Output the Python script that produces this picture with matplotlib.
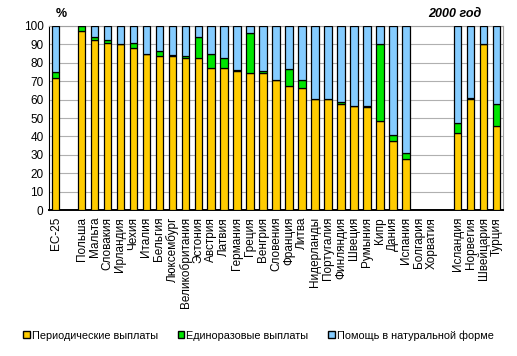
import matplotlib.pyplot as plt
from matplotlib.patches import Patch
import numpy as np

plt.rcParams['font.family'] = ['Liberation Sans', 'DejaVu Sans']

# categories (None = empty slot between groups)
countries = ["ЕС-25", None, "Польша", "Мальта", "Словакия", "Ирландия", "Чехия", "Италия",
             "Бельгия", "Люксембург", "Великобритания", "Эстония", "Австрия", "Латвия",
             "Германия", "Греция", "Венгрия", "Словения", "Франция", "Литва", "Нидерланды",
             "Португалия", "Финляндия", "Швеция", "Румыния", "Кипр", "Дания", "Испания",
             "Болгария", "Хорватия", None, "Исландия", "Норвегия", "Швейцария", "Турция"]

# periodic payments, %
periodic = [71.5, 0, 97.5, 92.6, 90.9, 90.0, 88.2, 84.6,
            83.9, 83.9, 82.8, 82.4, 77.0, 77.0,
            75.4, 74.5, 74.3, 70.5, 67.2, 66.1, 60.1,
            60.1, 57.8, 56.3, 55.8, 48.2, 37.3, 27.5,
            0, 0, 0, 41.7, 60.3, 90.0, 45.5]
# lump-sum payments, %
lump = [3.3, 0, 2.5, 1.2, 1.3, 0.0, 2.4, 0.0,
        2.3, 0.6, 0.7, 11.4, 7.6, 5.4,
        0.7, 21.5, 1.2, 0.0, 9.2, 4.4, 0.0,
        0.0, 0.8, 0.0, 0.7, 41.8, 3.3, 3.7,
        0, 0, 0, 5.4, 0.6, 0.0, 11.9]
# has data at all
has_data = [c is not None and c not in ("Болгария", "Хорватия") for c in countries]

periodic = np.array(periodic)
lump = np.array(lump)
in_kind = np.where(has_data, 100 - periodic - lump, 0)

c_per = "#FFCC00"
c_lump = "#00E600"
c_kind = "#85CCFF"

fig = plt.figure(figsize=(5.17, 3.56), dpi=100)
ax = fig.add_axes([0.095, 0.41, 0.878, 0.517])

x = np.arange(len(countries))
mask = np.array(has_data)
w = 0.58
ax.bar(x[mask], periodic[mask], w, color=c_per, edgecolor="black", linewidth=0.9, zorder=3)
ax.bar(x[mask], lump[mask], w, bottom=periodic[mask], color=c_lump, edgecolor="black", linewidth=0.9, zorder=3)
ax.bar(x[mask], in_kind[mask], w, bottom=(periodic + lump)[mask], color=c_kind, edgecolor="black", linewidth=0.9, zorder=3)

ax.set_xlim(-0.5, len(countries) - 0.5)
ax.set_ylim(0, 100)
ax.set_yticks(range(0, 101, 10))
ax.yaxis.grid(True, color="#B0B0B0", linewidth=0.8, zorder=0)
ax.tick_params(axis="y", length=0, labelsize=8.5, pad=4)
ax.set_xticks(x)
ax.set_xticklabels([c if c else "" for c in countries], rotation=90, fontsize=8.5)
ax.tick_params(axis="x", length=0, pad=5)

for s in ("top", "right"):
    ax.spines[s].set_color("#A0A0A0")
ax.spines["left"].set_color("black")
ax.spines["bottom"].set_color("black")
ax.spines["bottom"].set_linewidth(1.4)

fig.text(0.118, 0.962, "%", fontsize=9, fontweight="bold", ha="center", va="center")
fig.text(0.88, 0.962, "2000 год", fontsize=9, fontweight="bold", style="italic", ha="center", va="center")

handles = [Patch(facecolor=c_per, edgecolor="black", label="Периодические выплаты"),
           Patch(facecolor=c_lump, edgecolor="black", label="Единоразовые выплаты"),
           Patch(facecolor=c_kind, edgecolor="black", label="Помощь в натуральной форме")]
fig.legend(handles=handles, loc="center", bbox_to_anchor=(0.5, 0.058), ncol=3, frameon=False,
           fontsize=7.8, handlelength=0.6, handleheight=0.6, handletextpad=0.2, columnspacing=1.8)

fig.savefig("out.png", dpi=100)
